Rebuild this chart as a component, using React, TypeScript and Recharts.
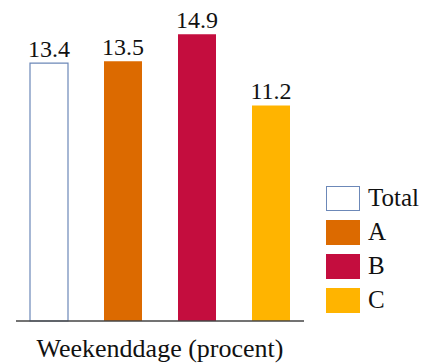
import { BarChart, Bar, XAxis, YAxis, LabelList } from 'recharts';

const categories = ['Weekenddage (procent)'];
const seriesNames = ['Total', 'A', 'B', 'C'];
const seriesValues = [13.4, 13.5, 14.9, 11.2];
const seriesFills = ['#ffffff', '#dc6a00', '#c40d3e', '#ffb400'];
const seriesStrokes = ['#6c88b8', 'none', 'none', 'none'];

const FONT = '"Liberation Serif", serif';

const data = categories.map((name) => {
  const row: Record<string, string | number> = { name };
  seriesNames.forEach((s, i) => {
    row[s] = seriesValues[i];
  });
  return row;
});

// legend: wide swatches stacked on the right
const SwatchLegend = () => (
  <div
    style={{
      position: 'absolute',
      left: 326,
      top: 181,
      fontFamily: FONT,
      fontSize: 25,
      color: '#111',
    }}
  >
    {seriesNames.map((s, i) => (
      <div key={s} style={{ display: 'flex', alignItems: 'center', height: 34 }}>
        <svg width={34} height={25} style={{ marginRight: 8 }}>
          <rect
            x={0.5}
            y={0.5}
            width={33}
            height={24}
            fill={seriesFills[i]}
            stroke={seriesStrokes[i] === 'none' ? seriesFills[i] : seriesStrokes[i]}
          />
        </svg>
        <span>{s}</span>
      </div>
    ))}
  </div>
);

export default function App() {
  return (
    <div style={{ position: 'absolute', left: 0, top: 0, width: 436, height: 363, background: '#fff' }}>
      <BarChart
        width={436}
        height={363}
        data={data}
        margin={{ top: 13, right: 132, left: 16, bottom: 0 }}
        barSize={38}
        barGap={36}
      >
        <XAxis
          dataKey="name"
          axisLine={{ stroke: '#444', strokeWidth: 1.5 }}
          tickLine={false}
          tickSize={0}
          tickMargin={18}
          height={42}
          tick={{ fontFamily: FONT, fontSize: 26, fill: '#111' }}
        />
        <YAxis hide domain={[0, 16]} />
        {seriesNames.map((s, i) => (
          <Bar
            key={s}
            dataKey={s}
            fill={seriesFills[i]}
            stroke={seriesStrokes[i]}
            strokeWidth={1.2}
            isAnimationActive={false}
          >
            <LabelList
              dataKey={s}
              position="top"
              offset={6}
              fontFamily={FONT}
              fontSize={24}
              fill="#111"
              formatter={(v: any) => Number(v).toFixed(1)}
            />
          </Bar>
        ))}
      </BarChart>
      <SwatchLegend />
    </div>
  );
}
